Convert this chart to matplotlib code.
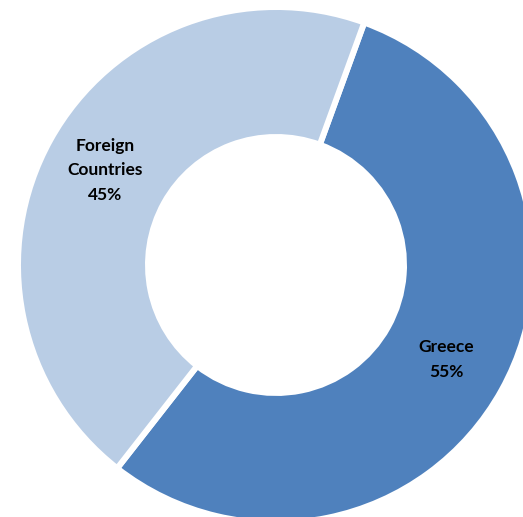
import matplotlib.pyplot as plt

labels = ['Greece', 'Foreign\nCountries']
shares = [55, 45]
colors = ['#4F81BD', '#B9CDE5']

fig = plt.figure(figsize=(5.23, 5.17), dpi=100)
ax = fig.add_axes([0, 0, 1, 1])

# label text = name + percent, put in the middle of the ring
texts = [f'{l}\n{s}%' for l, s in zip(labels, shares)]
wedges, lbls = ax.pie(shares, labels=texts, colors=colors, startangle=70, counterclock=False,
                      center=(276, 252), radius=258, labeldistance=0.756,
                      wedgeprops=dict(width=130, edgecolor='white', linewidth=4.3),
                      textprops=dict(fontsize=12.5, fontweight='bold', family='Lato', color='black'))
for t in lbls:
    t.set_ha('center')
    t.set_va('center')
    t.set_multialignment('center')
    t.set_linespacing(1.65)

ax.set_xlim(0, 523)
ax.set_ylim(0, 517)
ax.set_aspect('equal')
ax.axis('off')
plt.savefig('out.png', dpi=100)
